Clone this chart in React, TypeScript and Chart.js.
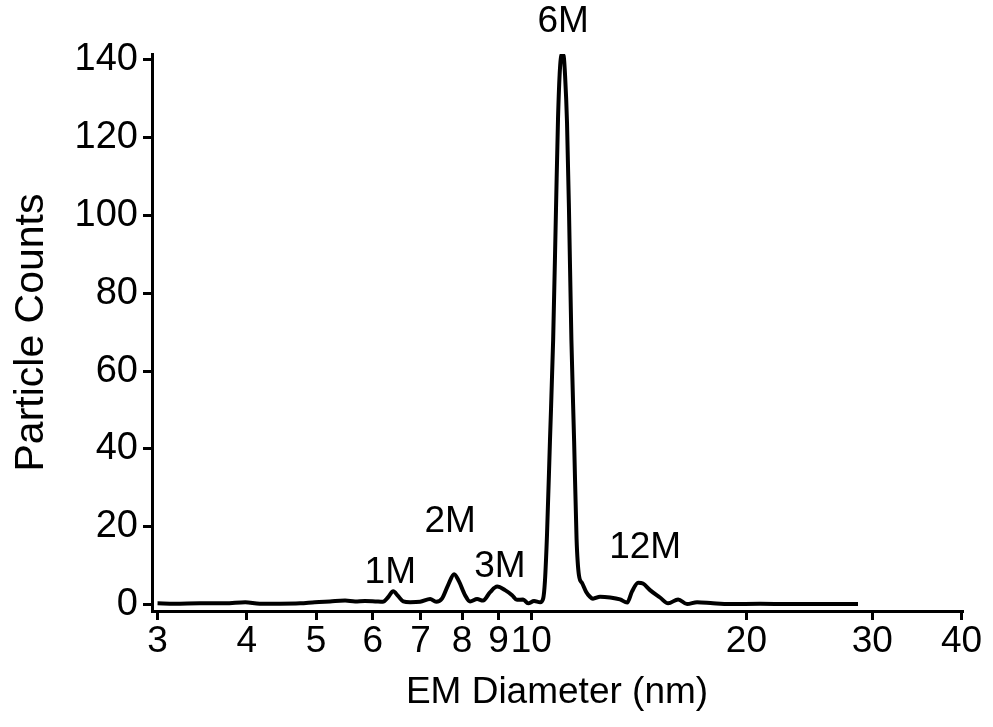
import React, { useEffect, useRef } from 'react';
import { Chart, registerables } from 'chart.js';

Chart.register(...registerables);

// EM diameter (nm) and particle counts
const diameterNm = [
  3.0, 3.17, 3.44, 3.73, 3.98, 4.17, 4.45, 4.75, 4.98, 5.23, 5.49, 5.67, 5.85, 6.05,
  6.2, 6.3, 6.41, 6.51, 6.62, 6.77, 6.99, 7.22, 7.36, 7.5, 7.65, 7.8, 7.92, 8.08,
  8.21, 8.4, 8.56, 8.76, 8.96, 9.19, 9.4, 9.55, 9.74, 9.9, 10.09, 10.29, 10.39,
  10.45, 10.52, 10.62, 10.73, 10.83, 10.9, 10.97, 11.04, 11.1, 11.15, 11.22, 11.29,
  11.38, 11.48, 11.57, 11.66, 11.78, 11.93, 12.08, 12.2, 12.48, 12.89, 13.31, 13.62,
  13.83, 14.11, 14.33, 14.66, 15.14, 15.54, 16.05, 16.52, 17.06, 17.96, 18.97, 20.9,
  23.0, 25.35, 28.65,
];
const particleCounts = [
  0.3, 0.2, 0.3, 0.3, 0.6, 0.2, 0.2, 0.3, 0.6, 0.8, 1.0, 0.8, 0.9, 0.8,
  0.7, 1.8, 3.4, 2.2, 0.8, 0.6, 0.7, 1.4, 0.7, 1.5, 5.0, 7.8, 6.0, 2.4,
  0.8, 1.4, 1.0, 3.2, 4.6, 3.7, 2.4, 1.2, 1.3, 0.3, 0.9, 0.6, 1.5,
  6.0, 18, 42, 68, 102, 125, 138, 141.5, 141, 136, 124, 102,
  68, 42, 17, 7.5, 5.5, 3.3, 2.0, 1.5, 2.0, 1.8, 1.3, 0.5,
  3.3, 5.6, 5.4, 3.7, 1.8, 0.3, 1.3, 0.1, 0.6, 0.3, 0.1, 0.2,
  0.1, 0.1, 0.1,
];

const xTickValues = [3, 4, 5, 6, 7, 8, 9, 10, 20, 30, 40];
const yTickValues = [0, 20, 40, 60, 80, 100, 120, 140];

const peakLabels = ['1M', '2M', '3M', '6M', '12M'];
const peakLabelX = [6.35, 7.7, 9.04, 11.08, 14.43];
const peakLabelY = [8.1, 21.2, 9.6, 149.8, 14.5];

const FONT = "'Liberation Sans', Arial, Helvetica, sans-serif";

const peakLabelPlugin = {
  id: 'peakLabels',
  afterDatasetsDraw(chart: any) {
    const { ctx, scales } = chart;
    const xs = scales.x;
    const ys = scales.y;
    ctx.save();
    ctx.fillStyle = '#000';
    ctx.font = `37px ${FONT}`;
    ctx.textAlign = 'center';
    ctx.textBaseline = 'middle';
    peakLabels.forEach((t, i) => {
      ctx.fillText(t, xs.getPixelForValue(peakLabelX[i]), ys.getPixelForValue(peakLabelY[i]));
    });
    ctx.restore();
  },
};

export default function App() {
  const ref = useRef<HTMLCanvasElement | null>(null);
  useEffect(() => {
    if (!ref.current) return;
    const chart = new Chart(ref.current, {
      type: 'line',
      data: {
        datasets: [
          {
            data: diameterNm.map((x, i) => ({ x, y: particleCounts[i] })),
            borderColor: '#000',
            borderWidth: 4,
            pointRadius: 0,
            fill: false,
            cubicInterpolationMode: 'monotone',
          },
        ],
      },
      options: {
        animation: false,
        responsive: false,
        devicePixelRatio: 1,
        layout: { padding: { left: 0, top: 54, right: 31, bottom: 0 } },
        plugins: { legend: { display: false }, tooltip: { enabled: false } },
        scales: {
          x: {
            type: 'logarithmic',
            min: 2.947,
            max: 40.05,
            afterBuildTicks: (scale: any) => {
              scale.ticks = xTickValues.map((v) => ({ value: v }));
            },
            afterFit: (scale: any) => {
              scale.height = 116;
            },
            ticks: {
              autoSkip: false,
              maxRotation: 0,
              minRotation: 0,
              color: '#000',
              padding: 0,
              font: { family: FONT, size: 37 },
              callback: (v: any) => String(v),
            },
            grid: {
              drawOnChartArea: false,
              drawTicks: true,
              tickLength: 9,
              color: '#000',
              lineWidth: 3,
            },
            border: { display: true, color: '#000', width: 3 },
            title: {
              display: true,
              text: 'EM Diameter (nm)',
              color: '#000',
              font: { family: FONT, size: 37 },
              padding: { top: 0, bottom: 12 },
            },
          },
          y: {
            type: 'linear',
            min: -1.67,
            max: 141.54,
            afterBuildTicks: (scale: any) => {
              scale.ticks = yTickValues.map((v) => ({ value: v }));
            },
            afterFit: (scale: any) => {
              scale.width = 152;
            },
            ticks: {
              color: '#000',
              padding: 5,
              font: { family: FONT, size: 38 },
            },
            grid: {
              drawOnChartArea: false,
              drawTicks: true,
              tickLength: 9,
              color: '#000',
              lineWidth: 3,
            },
            border: { display: true, color: '#000', width: 3 },
            title: {
              display: true,
              text: 'Particle Counts',
              color: '#000',
              font: { family: FONT, size: 41 },
              padding: { top: 7, bottom: 0 },
            },
          },
        },
      },
      plugins: [peakLabelPlugin],
    } as any);
    return () => chart.destroy();
  }, []);
  return (
    <div style={{ position: 'fixed', left: 0, top: 0, width: 993, height: 727, background: '#fff' }}>
      <canvas ref={ref} width={993} height={727} />
    </div>
  );
}
